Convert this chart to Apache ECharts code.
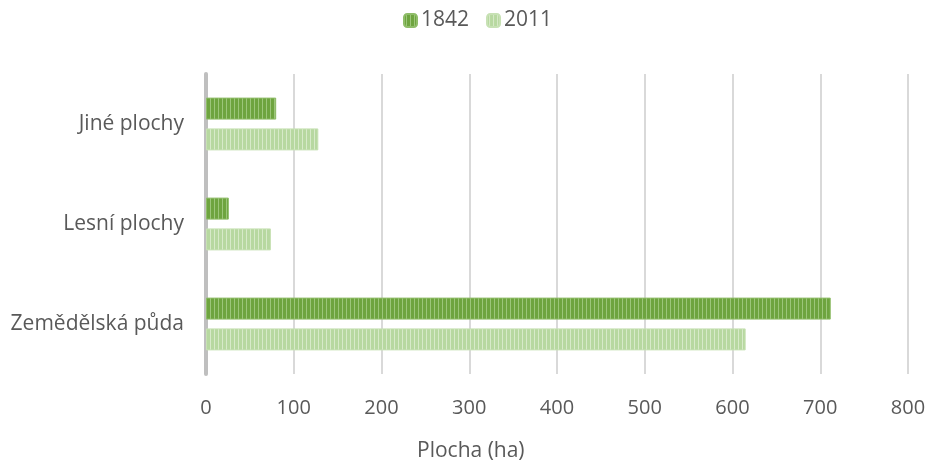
<!DOCTYPE html>
<html>
<head>
<meta charset="utf-8">
<script src="https://cdn.jsdelivr.net/npm/echarts@6/dist/echarts.min.js"></script>
<style>
html, body { margin: 0; padding: 0; background: #fff; }
#chart { width: 925px; height: 466px; }
</style>
</head>
<body>
<div id="chart"></div>
<script>
// data
let categories = ['Jiné plochy', 'Lesní plochy', 'Zemědělská půda'];
let seriesNames = ['1842', '2011'];
let values1842 = [80, 26, 712];
let values2011 = [128, 74, 615];
let xTicks = [0, 100, 200, 300, 400, 500, 600, 700, 800];

// vertical stripe fill like the original
function stripes(dark, light) {
    let c = document.createElement('canvas');
    c.width = 4;
    c.height = 4;
    let ctx = c.getContext('2d');
    ctx.fillStyle = dark;
    ctx.fillRect(0, 0, 4, 4);
    ctx.fillStyle = light;
    ctx.fillRect(2, 0, 1, 4);
    return { image: c, repeat: 'repeat' };
}

let fill1842 = stripes('#6ea43f', '#9cc67a');
let fill2011 = stripes('#b7d8a0', '#d7eac9');

let font = '"Open Sans", "Liberation Sans", sans-serif';
let mychart = echarts.init(document.getElementById('chart'));

mychart.setOption({
    animation: false,
    legend: {
        top: 5,
        left: 398,
        itemWidth: 13,
        itemHeight: 13,
        itemGap: 17,
        textStyle: { color: '#595959', fontSize: 21, fontFamily: font, padding: [0, 0, 0, -1] },
        data: seriesNames
    },
    grid: {
        left: 206,
        right: 17,
        top: 74,
        bottom: 92,
        outerBoundsMode: 'none'
    },
    xAxis: {
        type: 'value',
        min: xTicks[0],
        max: xTicks[xTicks.length - 1],
        interval: 100,
        axisLine: { show: false },
        axisTick: { show: false },
        axisLabel: { color: '#595959', fontSize: 20, fontFamily: font, margin: 24 },
        splitLine: { lineStyle: { color: '#d9d9d9', width: 2 } }
    },
    yAxis: {
        type: 'category',
        inverse: true,
        data: categories,
        axisLine: { lineStyle: { color: '#bfbfbf', width: 4 } },
        axisTick: { show: false },
        axisLabel: { color: '#595959', fontSize: 21, fontFamily: font, margin: 22 }
    },
    graphic: [{
        type: 'text',
        left: 417,
        top: 441,
        style: { text: 'Plocha (ha)', fill: '#595959', font: '21px ' + font }
    }],
    series: [
        {
            name: seriesNames[0],
            type: 'bar',
            barWidth: 22,
            barGap: '40%',
            data: values1842,
            itemStyle: { color: fill1842, borderColor: '#8fbd69', borderWidth: 1 }
        },
        {
            name: seriesNames[1],
            type: 'bar',
            barWidth: 22,
            barGap: '40%',
            data: values2011,
            itemStyle: { color: fill2011, borderColor: '#c7e1b4', borderWidth: 1 }
        }
    ]
});
</script>
</body>
</html>
